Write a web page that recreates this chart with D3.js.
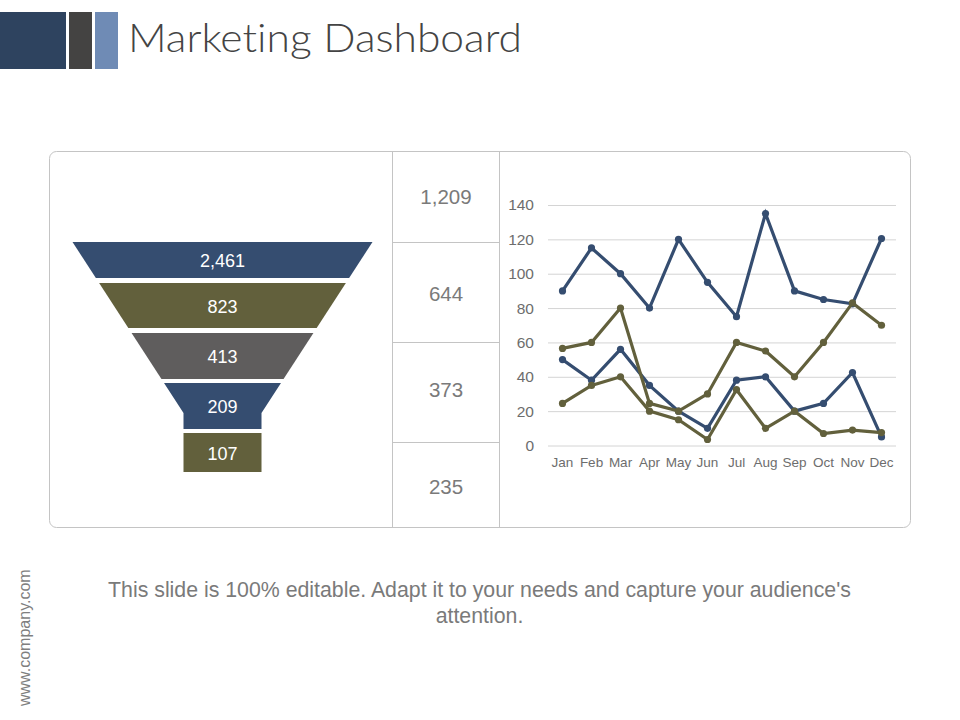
<!DOCTYPE html>
<html>
<head>
<meta charset="utf-8">
<title>Marketing Dashboard</title>
<script src="https://cdn.jsdelivr.net/npm/d3@7"></script>
<style>
  html, body { margin: 0; padding: 0; background: #fff; }
  svg { display: block; }
  text { font-family: "Liberation Sans", Arial, sans-serif; }
</style>
</head>
<body>
<div id="chart"></div>
<script>
// Chart values
const funnelValues = [2461, 823, 413, 209, 107];
const sideValues = [1209, 644, 373, 235];
const months = ["Jan", "Feb", "Mar", "Apr", "May", "Jun", "Jul", "Aug", "Sep", "Oct", "Nov", "Dec"];
const yTicks = [0, 20, 40, 60, 80, 100, 120, 140];
const blueHigh = [90, 115, 100, 80, 120, 95, 75, 135, 90, 85, 82.5, 120.5];
const blueLow = [50, 38, 56, 35, 20, 10, 38, 40, 20, 24.5, 42.5, 5];
const oliveHigh = [56.5, 60, 80, 24.5, 20, 30, 60, 55, 40, 60, 83, 70];
const oliveLow = [24.5, 35, 40, 20, 15, 3.5, 32.5, 10, 20, 7, 9, 7.5];

const blue = "#354d70", olive = "#62603c", grey = "#5f5d5d", border = "#c4c4c4";

const svg = d3.select("#chart").append("svg")
  .attr("width", 960)
  .attr("height", 720);

// Header blocks and title
const headerBlocks = [[0, 66, "#2e435f"], [69, 92, "#444342"], [95, 118, "#6f8bb5"]];
svg.selectAll(".block")
  .data(headerBlocks)
  .enter()
  .append("rect")
  .attr("x", d => d[0])
  .attr("y", 12)
  .attr("width", d => d[1] - d[0])
  .attr("height", 57)
  .attr("fill", d => d[2]);

svg.append("text")
  .attr("x", 128)
  .attr("y", 52)
  .attr("textLength", 394)
  .attr("lengthAdjust", "spacingAndGlyphs")
  .style("font-family", "Lato, sans-serif")
  .style("font-variant-ligatures", "none")
  .style("font-weight", 300)
  .style("font-size", "40px")
  .style("fill", "#444444")
  .text("Marketing Dashboard");

// Panel frame and dividers
const panel = svg.append("g");
panel.append("rect")
  .attr("x", 49.5)
  .attr("y", 151.5)
  .attr("width", 861)
  .attr("height", 376)
  .attr("rx", 7)
  .attr("fill", "#fff")
  .attr("stroke", border);
[392.5, 499.5].forEach(x => {
  panel.append("line")
    .attr("x1", x).attr("x2", x)
    .attr("y1", 152).attr("y2", 527)
    .attr("stroke", border);
});
[242.5, 342.5, 442.5].forEach(y => {
  panel.append("line")
    .attr("x1", 392).attr("x2", 499)
    .attr("y1", y).attr("y2", y)
    .attr("stroke", border);
});

// Middle column of numbers
const sideY = d3.scalePoint()
  .domain(d3.range(sideValues.length))
  .range([197, 486.5]);
svg.selectAll(".side")
  .data(sideValues)
  .enter()
  .append("text")
  .attr("x", 446)
  .attr("y", (d, i) => sideY(i))
  .attr("dy", "0.35em")
  .attr("text-anchor", "middle")
  .style("font-size", "20.5px")
  .style("fill", "#7a7a7a")
  .text(d => d3.format(",")(d));

// Funnel: slice edges and the tapering half width
const funnelCx = 222.5;
const funnelTops = [242, 283, 333, 383, 433];
const funnelBottoms = [278, 328, 379, 429, 472];
const funnelColors = [blue, olive, grey, blue, olive];
const neckY = 413;
const halfWidth = d3.scaleLinear()
  .domain([242, neckY])
  .range([150, 39])
  .clamp(true);

function funnelPath(top, bottom) {
  const ys = top < neckY && bottom > neckY ? [top, neckY, bottom] : [top, bottom];
  const left = ys.map(y => [funnelCx - halfWidth(y), y]);
  const right = ys.map(y => [funnelCx + halfWidth(y), y]).reverse();
  return d3.line()(left.concat(right)) + "Z";
}

svg.selectAll(".slice")
  .data(funnelValues)
  .enter()
  .append("path")
  .attr("d", (d, i) => funnelPath(funnelTops[i], funnelBottoms[i]))
  .attr("fill", (d, i) => funnelColors[i]);

svg.selectAll(".sliceLabel")
  .data(funnelValues)
  .enter()
  .append("text")
  .attr("x", funnelCx)
  .attr("y", (d, i) => (funnelTops[i] + funnelBottoms[i]) / 2 + 1)
  .attr("dy", "0.35em")
  .attr("text-anchor", "middle")
  .style("font-size", "18px")
  .style("fill", "#fff")
  .text(d => d3.format(",")(d));

// Line chart
const x = d3.scaleBand()
  .domain(months)
  .range([548, 896]);
const y = d3.scaleLinear()
  .domain([0, 140])
  .range([445.5, 205]);

const xAxis = svg.append("g")
  .attr("transform", "translate(0,445.5)")
  .call(d3.axisBottom(x).tickSize(0).tickPadding(12));
xAxis.select(".domain").remove();
xAxis.selectAll("text")
  .style("font-family", "'Liberation Sans', Arial, sans-serif")
  .style("font-size", "13.5px")
  .style("fill", "#6d6d6d");

const yAxis = svg.append("g")
  .attr("transform", "translate(548,0)")
  .call(d3.axisLeft(y).tickValues(yTicks).tickSize(-348).tickPadding(14));
yAxis.select(".domain").remove();
yAxis.selectAll("line").attr("stroke", "#d4d4d4");
yAxis.selectAll("text")
  .style("font-family", "'Liberation Sans', Arial, sans-serif")
  .style("font-size", "15.5px")
  .style("fill", "#6d6d6d");

const lineGen = d3.line()
  .x((d, i) => x(months[i]) + x.bandwidth() / 2)
  .y(d => y(d));

const allSeries = [
  { values: blueHigh, color: blue },
  { values: blueLow, color: blue },
  { values: oliveHigh, color: olive },
  { values: oliveLow, color: olive }
];

allSeries.forEach(s => {
  svg.append("path")
    .attr("d", lineGen(s.values))
    .attr("fill", "none")
    .attr("stroke", s.color)
    .attr("stroke-width", 3.2);
  svg.selectAll(null)
    .data(s.values)
    .enter()
    .append("circle")
    .attr("cx", (d, i) => x(months[i]) + x.bandwidth() / 2)
    .attr("cy", d => y(d))
    .attr("r", 3.6)
    .attr("fill", s.color);
});

// Footer text
svg.selectAll(".footer")
  .data(["This slide is 100% editable. Adapt it to your needs and capture your audience's", "attention."])
  .enter()
  .append("text")
  .attr("x", 479.5)
  .attr("y", (d, i) => 597 + i * 26)
  .attr("text-anchor", "middle")
  .style("font-size", "21.3px")
  .style("fill", "#7a7a7a")
  .text(d => d);

svg.append("text")
  .attr("transform", "translate(30,706) rotate(-90)")
  .style("font-size", "16px")
  .style("fill", "#7f7f7f")
  .text("www.company.com");
</script>
</body>
</html>
